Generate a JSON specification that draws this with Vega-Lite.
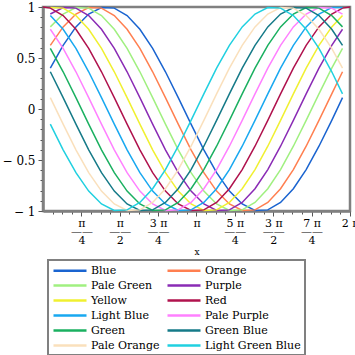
{
  "$schema": "https://vega.github.io/schema/vega-lite/v6.json",
  "width": 307,
  "height": 204,
  "autosize": {"type": "none"},
  "padding": {"left": 43, "top": 7, "right": 5, "bottom": 144},
  "config": {
    "font": "DejaVu Serif",
    "view": {"stroke": "#808080", "strokeWidth": 2.5},
    "axis": {"domainColor": "#808080", "domainWidth": 2.5, "tickColor": "#555555", "tickWidth": 1, "tickSize": 4, "labelColor": "#000000", "titleColor": "#000000", "grid": false, "labelFont": "DejaVu Serif", "titleFont": "DejaVu Serif"}
  },
  "data": {"values": [
    {"x": 0, "Red": 1},
    {"x": 0.15, "Blue": 0.400, "Orange": 0.624, "Pale Green": 0.805, "Purple": 0.931, "Yellow": 0.994, "Red": 0.989, "Light Blue": 0.916, "Pale Purple": 0.782, "Green": 0.594, "Green Blue": 0.365, "Pale Orange": 0.112, "Light Green Blue": -0.149},
    {"x": 0.412, "Blue": 0.624, "Orange": 0.805, "Pale Green": 0.931, "Purple": 0.994, "Yellow": 0.989, "Red": 0.916, "Light Blue": 0.782, "Pale Purple": 0.594, "Green": 0.365, "Green Blue": 0.112, "Pale Orange": -0.149, "Light Green Blue": -0.400},
    {"x": 0.674, "Blue": 0.805, "Orange": 0.931, "Pale Green": 0.994, "Purple": 0.989, "Yellow": 0.916, "Red": 0.782, "Light Blue": 0.594, "Pale Purple": 0.365, "Green": 0.112, "Green Blue": -0.149, "Pale Orange": -0.400, "Light Green Blue": -0.624},
    {"x": 0.935, "Blue": 0.931, "Orange": 0.994, "Pale Green": 0.989, "Purple": 0.916, "Yellow": 0.782, "Red": 0.594, "Light Blue": 0.365, "Pale Purple": 0.112, "Green": -0.149, "Green Blue": -0.400, "Pale Orange": -0.624, "Light Green Blue": -0.805},
    {"x": 1.197, "Blue": 0.994, "Orange": 0.989, "Pale Green": 0.916, "Purple": 0.782, "Yellow": 0.594, "Red": 0.365, "Light Blue": 0.112, "Pale Purple": -0.149, "Green": -0.400, "Green Blue": -0.624, "Pale Orange": -0.805, "Light Green Blue": -0.931},
    {"x": 1.459, "Blue": 0.989, "Orange": 0.916, "Pale Green": 0.782, "Purple": 0.594, "Yellow": 0.365, "Red": 0.112, "Light Blue": -0.149, "Pale Purple": -0.400, "Green": -0.624, "Green Blue": -0.805, "Pale Orange": -0.931, "Light Green Blue": -0.994},
    {"x": 1.721, "Blue": 0.916, "Orange": 0.782, "Pale Green": 0.594, "Purple": 0.365, "Yellow": 0.112, "Red": -0.149, "Light Blue": -0.400, "Pale Purple": -0.624, "Green": -0.805, "Green Blue": -0.931, "Pale Orange": -0.994, "Light Green Blue": -0.989},
    {"x": 1.983, "Blue": 0.782, "Orange": 0.594, "Pale Green": 0.365, "Purple": 0.112, "Yellow": -0.149, "Red": -0.400, "Light Blue": -0.624, "Pale Purple": -0.805, "Green": -0.931, "Green Blue": -0.994, "Pale Orange": -0.989, "Light Green Blue": -0.916},
    {"x": 2.244, "Blue": 0.594, "Orange": 0.365, "Pale Green": 0.112, "Purple": -0.149, "Yellow": -0.400, "Red": -0.624, "Light Blue": -0.805, "Pale Purple": -0.931, "Green": -0.994, "Green Blue": -0.989, "Pale Orange": -0.916, "Light Green Blue": -0.782},
    {"x": 2.506, "Blue": 0.365, "Orange": 0.112, "Pale Green": -0.149, "Purple": -0.400, "Yellow": -0.624, "Red": -0.805, "Light Blue": -0.931, "Pale Purple": -0.994, "Green": -0.989, "Green Blue": -0.916, "Pale Orange": -0.782, "Light Green Blue": -0.594},
    {"x": 2.768, "Blue": 0.112, "Orange": -0.149, "Pale Green": -0.400, "Purple": -0.624, "Yellow": -0.805, "Red": -0.931, "Light Blue": -0.994, "Pale Purple": -0.989, "Green": -0.916, "Green Blue": -0.782, "Pale Orange": -0.594, "Light Green Blue": -0.365},
    {"x": 3.030, "Blue": -0.149, "Orange": -0.400, "Pale Green": -0.624, "Purple": -0.805, "Yellow": -0.931, "Red": -0.994, "Light Blue": -0.989, "Pale Purple": -0.916, "Green": -0.782, "Green Blue": -0.594, "Pale Orange": -0.365, "Light Green Blue": -0.112},
    {"x": 3.292, "Blue": -0.400, "Orange": -0.624, "Pale Green": -0.805, "Purple": -0.931, "Yellow": -0.994, "Red": -0.989, "Light Blue": -0.916, "Pale Purple": -0.782, "Green": -0.594, "Green Blue": -0.365, "Pale Orange": -0.112, "Light Green Blue": 0.149},
    {"x": 3.553, "Blue": -0.624, "Orange": -0.805, "Pale Green": -0.931, "Purple": -0.994, "Yellow": -0.989, "Red": -0.916, "Light Blue": -0.782, "Pale Purple": -0.594, "Green": -0.365, "Green Blue": -0.112, "Pale Orange": 0.149, "Light Green Blue": 0.400},
    {"x": 3.815, "Blue": -0.805, "Orange": -0.931, "Pale Green": -0.994, "Purple": -0.989, "Yellow": -0.916, "Red": -0.782, "Light Blue": -0.594, "Pale Purple": -0.365, "Green": -0.112, "Green Blue": 0.149, "Pale Orange": 0.400, "Light Green Blue": 0.624},
    {"x": 4.077, "Blue": -0.931, "Orange": -0.994, "Pale Green": -0.989, "Purple": -0.916, "Yellow": -0.782, "Red": -0.594, "Light Blue": -0.365, "Pale Purple": -0.112, "Green": 0.149, "Green Blue": 0.400, "Pale Orange": 0.624, "Light Green Blue": 0.805},
    {"x": 4.339, "Blue": -0.994, "Orange": -0.989, "Pale Green": -0.916, "Purple": -0.782, "Yellow": -0.594, "Red": -0.365, "Light Blue": -0.112, "Pale Purple": 0.149, "Green": 0.400, "Green Blue": 0.624, "Pale Orange": 0.805, "Light Green Blue": 0.931},
    {"x": 4.601, "Blue": -0.989, "Orange": -0.916, "Pale Green": -0.782, "Purple": -0.594, "Yellow": -0.365, "Red": -0.112, "Light Blue": 0.149, "Pale Purple": 0.400, "Green": 0.624, "Green Blue": 0.805, "Pale Orange": 0.931, "Light Green Blue": 0.994},
    {"x": 4.862, "Blue": -0.916, "Orange": -0.782, "Pale Green": -0.594, "Purple": -0.365, "Yellow": -0.112, "Red": 0.149, "Light Blue": 0.400, "Pale Purple": 0.624, "Green": 0.805, "Green Blue": 0.931, "Pale Orange": 0.994, "Light Green Blue": 0.989},
    {"x": 5.124, "Blue": -0.782, "Orange": -0.594, "Pale Green": -0.365, "Purple": -0.112, "Yellow": 0.149, "Red": 0.400, "Light Blue": 0.624, "Pale Purple": 0.805, "Green": 0.931, "Green Blue": 0.994, "Pale Orange": 0.989, "Light Green Blue": 0.916},
    {"x": 5.386, "Blue": -0.594, "Orange": -0.365, "Pale Green": -0.112, "Purple": 0.149, "Yellow": 0.400, "Red": 0.624, "Light Blue": 0.805, "Pale Purple": 0.931, "Green": 0.994, "Green Blue": 0.989, "Pale Orange": 0.916, "Light Green Blue": 0.782},
    {"x": 5.648, "Blue": -0.365, "Orange": -0.112, "Pale Green": 0.149, "Purple": 0.400, "Yellow": 0.624, "Red": 0.805, "Light Blue": 0.931, "Pale Purple": 0.994, "Green": 0.989, "Green Blue": 0.916, "Pale Orange": 0.782, "Light Green Blue": 0.594},
    {"x": 5.910, "Blue": -0.112, "Orange": 0.149, "Pale Green": 0.400, "Purple": 0.624, "Yellow": 0.805, "Red": 0.931, "Light Blue": 0.994, "Pale Purple": 0.989, "Green": 0.916, "Green Blue": 0.782, "Pale Orange": 0.594, "Light Green Blue": 0.365},
    {"x": 6.13, "Blue": 0.112, "Orange": 0.365, "Pale Green": 0.594, "Purple": 0.782, "Yellow": 0.916, "Red": 0.989, "Light Blue": 0.994, "Pale Purple": 0.931, "Green": 0.805, "Green Blue": 0.624, "Pale Orange": 0.400, "Light Green Blue": 0.149},
    {"x": 6.2832, "Red": 1}
  ]},
  "transform": [
    {"fold": ["Blue", "Orange", "Pale Green", "Purple", "Yellow", "Red", "Light Blue", "Pale Purple", "Green", "Green Blue", "Pale Orange", "Light Green Blue"], "as": ["series", "y"]}
  ],
  "mark": {"type": "line", "strokeWidth": 1.5},
  "encoding": {
    "x": {
      "field": "x", "type": "quantitative",
      "scale": {"domain": [0, 6.2832], "nice": false, "zero": false},
      "axis": {
        "title": "x", "titleFontSize": 9, "titleFontWeight": "normal", "titlePadding": 2,
        "values": [0.19635, 0.3927, 0.58905, 0.7854, 0.98175, 1.1781, 1.37445, 1.5708, 1.76715, 1.9635, 2.15985, 2.35619, 2.55254, 2.74889, 2.94524, 3.14159, 3.33794, 3.53429, 3.73064, 3.92699, 4.12334, 4.31969, 4.51604, 4.71239, 4.90874, 5.10509, 5.30144, 5.49779, 5.69414, 5.89049, 6.08684, 6.28319],
        "labelExpr": "abs(datum.value*4/PI - round(datum.value*4/PI)) > 0.01 ? '' : ['', ['π','——','4'], ['π','——','2'], ['3 π','——','4'], 'π', ['5 π','——','4'], ['3 π','——','2'], ['7 π','——','4'], '2 π'][round(datum.value*4/PI)]",
        "labelFontSize": 11, "labelLineHeight": 8.5, "labelBaseline": "top", "labelPadding": 1,
        "labelOverlap": false, "labelFlush": false, "labelBound": false,
        "tickSize": {"condition": {"test": "abs(datum.value*4/PI - round(datum.value*4/PI)) > 0.01", "value": 3}, "value": 5}
      }
    },
    "y": {
      "field": "y", "type": "quantitative",
      "scale": {"domain": [-1, 1], "nice": false, "zero": false},
      "axis": {
        "title": null,
        "values": [-1, -0.9, -0.8, -0.7, -0.6, -0.5, -0.4, -0.3, -0.2, -0.1, 0, 0.1, 0.2, 0.3, 0.4, 0.5, 0.6, 0.7, 0.8, 0.9, 1],
        "labelExpr": "abs(datum.value*2 - round(datum.value*2)) > 0.01 ? '' : (datum.value < -0.01 ? '− ' + format(-datum.value, '~g') : format(abs(datum.value), '~g'))",
        "labelFontSize": 12, "labelOverlap": false, "labelFlush": false, "labelBound": false, "labelPadding": 3,
        "tickSize": {"condition": {"test": "abs(datum.value*2 - round(datum.value*2)) > 0.01", "value": 3}, "value": 5}
      }
    },
    "color": {
      "field": "series", "type": "nominal",
      "scale": {
        "domain": ["Blue", "Orange", "Pale Green", "Purple", "Yellow", "Red", "Light Blue", "Pale Purple", "Green", "Green Blue", "Pale Orange", "Light Green Blue"],
        "range": ["#1a64d0", "#ff7f50", "#a0f080", "#8a2bb5", "#f0f030", "#b0124d", "#18a8f0", "#ff80ff", "#1ab060", "#157a88", "#fae0bc", "#20d0e0"]
      },
      "legend": {
        "title": null, "orient": "none", "legendX": 5, "legendY": 253, "direction": "horizontal",
        "columns": 2, "symbolType": "M-1,0H5.6", "symbolSize": 100, "symbolStrokeWidth": 2.5,
        "labelFont": "DejaVu Serif", "labelFontSize": 11, "labelColor": "#000000", "labelOffset": 26,
        "rowPadding": 3, "columnPadding": 2,
        "strokeColor": "#808080", "padding": 4,
        "encode": {"legend": {"update": {"strokeWidth": {"value": 2}}}}
      }
    }
  }
}
